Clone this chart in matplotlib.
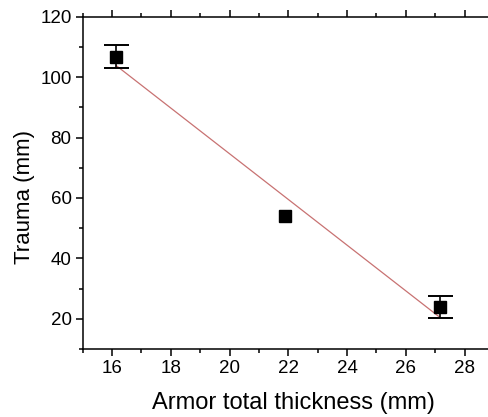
import numpy as np
import matplotlib
matplotlib.use("Agg")
import matplotlib.pyplot as plt
from matplotlib.ticker import MultipleLocator

plt.rcParams["font.family"] = ["Liberation Sans", "DejaVu Sans"]

# Data
thickness = [16.15, 21.9, 27.15]
trauma = [106.8, 53.9, 23.9]
trauma_err = [3.8, 0.0, 3.7]

# Linear fit
slope, intercept = np.polyfit(thickness, trauma, 1)
fit_x = np.array([thickness[0], thickness[-1]])
fit_y = slope * fit_x + intercept

fig = plt.figure(figsize=(4.89, 4.17), dpi=100)
ax = fig.add_axes([0.169, 0.163, 0.841, 0.797])

ax.plot(fit_x, fit_y, color="#c87272", lw=0.9, zorder=2)

# error bars only where there is an error
has_err = [i for i, e in enumerate(trauma_err) if e > 0]
ax.errorbar([thickness[i] for i in has_err], [trauma[i] for i in has_err],
            yerr=[trauma_err[i] for i in has_err], fmt="none", ecolor="black",
            capsize=9, capthick=1.4, elinewidth=1.2, zorder=3)
ax.plot(thickness, trauma, "s", color="black", markersize=8, zorder=4)

ax.set_xlim(15, 29)
ax.set_ylim(10, 120)
ax.xaxis.set_major_locator(MultipleLocator(2))
ax.xaxis.set_minor_locator(MultipleLocator(1))
ax.yaxis.set_major_locator(MultipleLocator(20))
ax.yaxis.set_minor_locator(MultipleLocator(10))

ax.tick_params(which="both", direction="out", top=True, right=True,
               labelsize=13.5, width=1.1, colors="black")
ax.tick_params(which="major", length=5, pad=3)
ax.tick_params(which="minor", length=3)
for s in ax.spines.values():
    s.set_linewidth(1.1)

ax.set_xlabel("Armor total thickness (mm)", fontsize=17)
ax.set_ylabel("Trauma (mm)", fontsize=16)
ax.xaxis.set_label_coords(0.512, -0.13)
ax.yaxis.set_label_coords(-0.116, 0.457)

fig.savefig("out.png", dpi=100)
